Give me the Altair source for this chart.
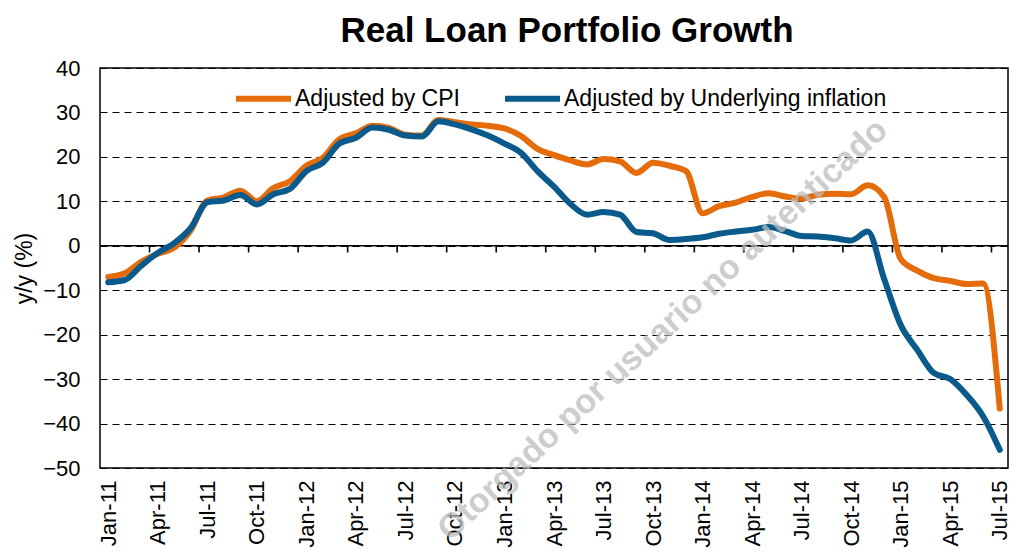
import json
import altair as alt
import pandas as pd

# ---------------- data ----------------
months = [
    "Jan-11", "Feb-11", "Mar-11", "Apr-11", "May-11", "Jun-11", "Jul-11", "Aug-11", "Sep-11", "Oct-11", "Nov-11", "Dec-11",
    "Jan-12", "Feb-12", "Mar-12", "Apr-12", "May-12", "Jun-12", "Jul-12", "Aug-12", "Sep-12", "Oct-12", "Nov-12", "Dec-12",
    "Jan-13", "Feb-13", "Mar-13", "Apr-13", "May-13", "Jun-13", "Jul-13", "Aug-13", "Sep-13", "Oct-13", "Nov-13", "Dec-13",
    "Jan-14", "Feb-14", "Mar-14", "Apr-14", "May-14", "Jun-14", "Jul-14", "Aug-14", "Sep-14", "Oct-14", "Nov-14", "Dec-14",
    "Jan-15", "Feb-15", "Mar-15", "Apr-15", "May-15", "Jun-15", "Jul-15",
]
adjusted_cpi = [
    -7.0, -6.2, -3.6, -1.8, -0.4, 3.5, 10.2, 10.9, 12.4, 10.0, 13.0, 14.5,
    18.0, 19.8, 24.0, 25.3, 27.0, 26.5, 25.0, 24.8, 28.3, 27.8, 27.3, 27.0,
    26.4, 24.7, 21.8, 20.4, 19.2, 18.3, 19.5, 19.0, 16.4, 18.7, 18.0, 16.8,
    7.3, 8.9, 9.7, 11.0, 11.8, 11.1, 10.6, 11.5, 11.7, 11.6, 13.6, 11.0,
    -3.0, -5.6, -7.3, -7.9, -8.6, -8.5, -36.6,
]
adjusted_underlying = [
    -8.2, -7.7, -4.5, -1.6, 0.6, 4.0, 9.8, 10.2, 11.4, 9.3, 11.6, 12.8,
    16.8, 18.7, 23.0, 24.3, 26.6, 26.1, 24.8, 24.6, 28.0, 27.3, 26.2, 24.8,
    23.0, 20.9, 16.8, 13.3, 9.4, 7.0, 7.6, 7.0, 3.1, 2.8, 1.3, 1.5,
    1.9, 2.7, 3.2, 3.6, 4.2, 3.3, 2.2, 2.1, 1.7, 1.2, 3.2, -7.5,
    -17.8, -23.4, -28.6, -30.0, -33.6, -38.4, -45.9,
]
series_names = ["Adjusted by CPI", "Adjusted by Underlying inflation"]
series_colors = ["#E46C0A", "#0A5A8C"]
y_ticks = [-50, -40, -30, -20, -10, 0, 10, 20, 30, 40]
label_step = 3
chart_title = "Real Loan Portfolio Growth"
y_title = "y/y (%)"
watermark = ["Otorgado por usuario no autenticado"]

FONT = "Liberation Sans"

# ---------------- tables ----------------
rows = []
for name, vals in zip(series_names, [adjusted_cpi, adjusted_underlying]):
    for i, v in enumerate(vals):
        rows.append({"idx": i, "month": months[i], "series": name, "value": v})
df = pd.DataFrame(rows)

n = len(months)
label_vals = list(range(0, n, label_step))
tick_df = pd.DataFrame({"x": [k - 0.5 for k in range(label_step, n, label_step)]})
zero_df = pd.DataFrame({"y": [0]})
wm_df = pd.DataFrame({"t": watermark})

label_expr = json.dumps(months) + "[datum.value]"

x_scale = alt.Scale(domain=[-0.5, n - 0.5], nice=False, zero=False)
y_scale = alt.Scale(domain=[y_ticks[0], y_ticks[-1]], nice=False, zero=False)

lines = alt.Chart(df).mark_line(
    strokeWidth=6, interpolate="monotone", strokeCap="round", strokeJoin="round"
).encode(
    x=alt.X("idx:Q", scale=x_scale, axis=alt.Axis(
        values=label_vals, labelExpr=label_expr, labelAngle=-90, labelFontSize=22,
        labelFont=FONT, labelColor="black", ticks=False, domain=False, grid=False,
        labelPadding=12, title=None, labelOverlap=False, labelFlush=False)),
    y=alt.Y("value:Q", scale=y_scale, axis=alt.Axis(
        values=y_ticks, labelFontSize=22, labelFont=FONT, labelColor="black",
        ticks=False, domain=False, grid=True, gridColor="black", gridDash=[7, 5],
        gridWidth=1.2, labelPadding=20, title=y_title, titleFont=FONT,
        titleFontSize=23, titleFontWeight="normal", titleColor="black", titlePadding=6)),
    color=alt.Color("series:N", scale=alt.Scale(domain=series_names, range=series_colors),
                    legend=alt.Legend(
                        orient="none", legendX=133, legendY=0, direction="horizontal",
                        title=None, symbolType="stroke", symbolSize=3025, symbolStrokeWidth=6,
                        labelFont=FONT, labelFontSize=23, labelColor="black", labelLimit=500,
                        labelOffset=1, columnPadding=33)),
)

zero_line = alt.Chart(zero_df).mark_rule(color="black", strokeWidth=1.6).encode(
    y=alt.Y("y:Q", scale=y_scale)
)

ticks = alt.Chart(tick_df).mark_rule(color="black", strokeWidth=1.6).encode(
    x=alt.X("x:Q", scale=x_scale),
    y=alt.datum(0),
    y2=alt.datum(-1.5),
)

wm = alt.Chart(wm_df).mark_text(
    angle=317, fontSize=34, fontWeight="bold", font=FONT, color="#bdbdbd", opacity=0.75
).encode(text="t:N", x=alt.value(563), y=alt.value(262))

chart = alt.layer(zero_line, ticks, lines, wm).properties(
    width=908, height=400,
    title=alt.TitleParams(chart_title, font=FONT, fontSize=35, fontWeight="bold",
                          color="black", anchor="middle", dx=13, offset=8),
    autosize=alt.AutoSizeParams(type="none"),
    padding={"left": 92, "top": 60, "right": 4, "bottom": 80},
).configure(background="white").configure_view(stroke="black", strokeWidth=1.5)

chart.save("out.html", embed_options={"renderer": "svg", "actions": False})
